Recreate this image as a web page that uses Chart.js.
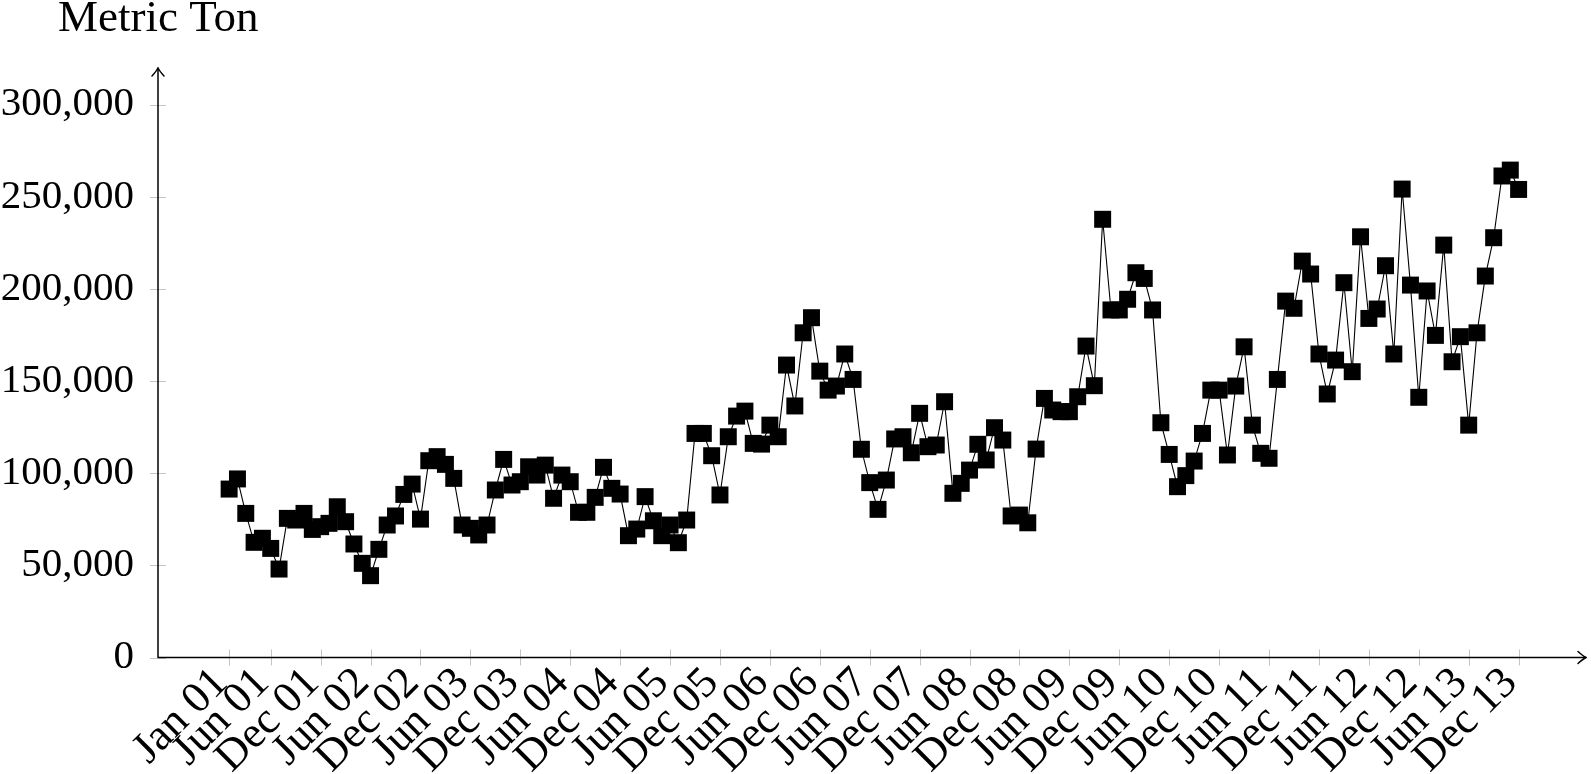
<!DOCTYPE html>
<html><head><meta charset="utf-8">
<script src="https://cdn.jsdelivr.net/npm/chart.js@4.4.1/dist/chart.umd.min.js"></script>
<style>html,body{margin:0;padding:0;background:#fff}#wrap{width:1591px;height:774px}</style>
</head><body><div id="wrap"><canvas id="c" width="1591" height="774"></canvas></div>
<script>
// Categories: one per month, Jan 2001 .. Dec 2013
const monthNames = ["Jan","Feb","Mar","Apr","May","Jun","Jul","Aug","Sep","Oct","Nov","Dec"];
const years = ["01","02","03","04","05","06","07","08","09","10","11","12","13"];
const months = [];
years.forEach(y => monthNames.forEach(m => months.push(m + " " + y)));

// Tick labels shown on the x axis
const tickLabels = ["Jan 01","Jun 01","Dec 01","Jun 02","Dec 02","Jun 03","Dec 03","Jun 04","Dec 04",
  "Jun 05","Dec 05","Jun 06","Dec 06","Jun 07","Dec 07","Jun 08","Dec 08","Jun 09","Dec 09",
  "Jun 10","Dec 10","Jun 11","Dec 11","Jun 12","Dec 12","Jun 13","Dec 13"];

// Y tick values
const yTicks = [0, 50000, 100000, 150000, 200000, 250000, 300000];

// Series values (metric ton), one per month
const values = [
  91400, 96900, 78200, 62500, 64700, 59200, 48000, 75500, 74600, 78200, 69500, 71000, 72800, 81800, 73700, 61600, 51100, 44400, 58700, 71900,
  76800, 88500, 94100, 75100, 106800, 109000, 104800, 97200, 71900, 70100, 66500, 71900, 90900, 107500, 93600, 95400, 103500, 99000, 104400, 86400,
  99000, 95400, 78800, 78800, 86900, 103200, 91800, 88700, 66100, 69700, 87300, 74200, 66100, 71900, 62300, 74600, 121600, 121600, 109500, 88200,
  119800, 131000, 133700, 116200, 115800, 126100, 119800, 158700, 136500, 176200, 184400, 155400, 145100, 147300, 164700, 150900, 113000, 94900, 80400, 96300,
  118600, 119800, 111100, 132500, 114400, 115300, 138800, 89100, 94500, 101700, 115700, 107200, 124700, 118000, 76800, 77300, 73100, 113100, 140600, 134300,
  133400, 133400, 141500, 169000, 147500, 237800, 188600, 188600, 194400, 208800, 205700, 188600, 127400, 110200, 92700, 98700, 106600, 121600, 145100, 145100,
  109900, 147300, 168600, 126100, 110800, 108100, 150900, 193400, 189500, 215100, 208100, 164700, 143000, 161400, 203400, 155100, 228300, 184000, 189100, 212600,
  164700, 254200, 202100, 141200, 198900, 174800, 223800, 160500, 174100, 126100, 176200, 207000, 227800, 261300, 264500, 254000
];

const yTitle = "Metric Ton";
const FONT = "'Liberation Serif', 'DejaVu Serif', serif";

const axesPlugin = {
  id: 'axesPlugin',
  beforeDatasetsDraw(chart) {
    const {ctx, chartArea: a, scales: {x, y}} = chart;
    const y0 = y.getPixelForValue(0);
    const x0 = a.left;
    ctx.save();
    ctx.strokeStyle = '#c4c4c4';
    ctx.lineWidth = 1;
    ctx.beginPath();
    x.ticks.forEach(t => {
      const px = Math.round(x.getPixelForValue(t.value)) + 0.5;
      ctx.moveTo(px, y0 - 8); ctx.lineTo(px, y0 + 8);
    });
    y.ticks.forEach(t => {
      const py = Math.round(y.getPixelForValue(t.value)) + 0.5;
      ctx.moveTo(x0 - 8, py); ctx.lineTo(x0 + 8, py);
    });
    ctx.stroke();
    ctx.strokeStyle = '#000';
    ctx.lineWidth = 1.5;
    ctx.lineCap = 'round';
    ctx.lineJoin = 'round';
    ctx.beginPath();
    ctx.moveTo(x0, y0); ctx.lineTo(a.right, y0);
    ctx.moveTo(x0, y0); ctx.lineTo(x0, a.top);
    ctx.stroke();
    ctx.beginPath();
    ctx.moveTo(a.right - 8, y0 - 6); ctx.quadraticCurveTo(a.right - 3, y0 - 1.5, a.right, y0);
    ctx.quadraticCurveTo(a.right - 3, y0 + 1.5, a.right - 8, y0 + 6);
    ctx.moveTo(x0 - 6, a.top + 8); ctx.quadraticCurveTo(x0 - 1.5, a.top + 3, x0, a.top);
    ctx.quadraticCurveTo(x0 + 1.5, a.top + 3, x0 + 6, a.top + 8);
    ctx.stroke();
    ctx.restore();
  },
  afterDraw(chart) {
    const ctx = chart.ctx;
    ctx.save();
    ctx.fillStyle = '#000';
    ctx.font = "45px " + FONT;
    ctx.textBaseline = 'alphabetic';
    ctx.textAlign = 'left';
    ctx.fillText(yTitle, 58, 31);
    ctx.restore();
  }
};

new Chart(document.getElementById('c'), {
  type: 'line',
  data: {
    datasets: [{
      data: values.map((v, i) => ({x: i, y: v})),
      borderColor: '#000',
      borderWidth: 1.1,
      backgroundColor: '#000',
      pointStyle: 'rect',
      pointRadius: 12,
      pointBorderWidth: 0,
      pointBackgroundColor: '#000',
      tension: 0,
      fill: false,
      clip: false
    }]
  },
  options: {
    responsive: false,
    animation: false,
    devicePixelRatio: 1,
    layout: {autoPadding: false, padding: {top: 68, right: 5, left: 0, bottom: 0}},
    plugins: {legend: {display: false}, tooltip: {enabled: false}, title: {display: false}},
    scales: {
      x: {
        type: 'linear',
        min: -8.55, max: 163.1,
        afterBuildTicks: s => { s.ticks = tickLabels.map(l => ({value: months.indexOf(l)})); },
        afterFit: s => { s.height = 116.5; s.paddingRight = 0; s.paddingLeft = 0; },
        grid: {display: false, drawTicks: false},
        border: {display: false},
        ticks: {
          autoSkip: false, minRotation: 45, maxRotation: 45, padding: 0, labelOffset: -8,
          color: '#000', font: {family: FONT, size: 44},
          callback: v => months[v]
        }
      },
      y: {
        type: 'linear',
        min: 0, max: 319900,
        afterBuildTicks: s => { s.ticks = yTicks.map(v => ({value: v})); },
        afterFit: s => { s.width = 158; },
        grid: {display: false, drawTicks: false},
        border: {display: false},
        ticks: {
          padding: 24, color: '#000', font: {family: FONT, size: 41},
          callback: v => v.toLocaleString('en-US')
        }
      }
    }
  },
  plugins: [axesPlugin]
});
</script>
</body></html>
